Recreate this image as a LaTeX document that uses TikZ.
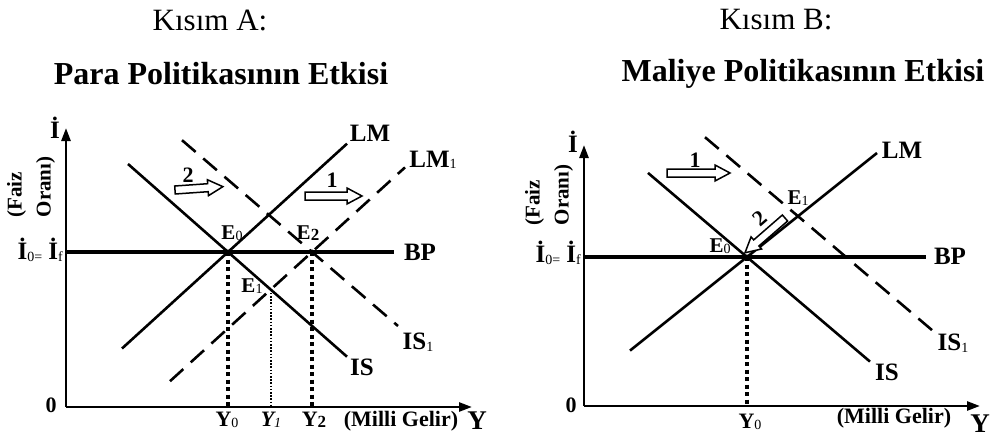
\documentclass[tikz,border=0pt]{standalone}
\usepackage{fontspec}
\setmainfont{Liberation Serif}
\usetikzlibrary{arrows.meta}
\newcommand{\lowsub}[1]{\raisebox{-1.5pt}{\fontsize{14}{14}\mdseries\selectfont #1}}
\newcommand{\lowsubb}[1]{\raisebox{-1.5pt}{\fontsize{17}{17}\bfseries\selectfont #1}}
\newcommand{\harrow}[4]{\draw[hollow,shift={(#1,#2)},rotate=#3] (0,-4) -- ({#4-15},-4) -- ({#4-15},-8) -- (#4,0) -- ({#4-15},8) -- ({#4-15},4) -- (0,4) -- cycle;}
\begin{document}
\begin{tikzpicture}[x=1pt,y=-1pt,
  ax/.style={line width=2.6pt,-{Triangle[length=13pt,width=9pt]}},
  curve/.style={line width=2.6pt},
  dcurve/.style={line width=2.6pt,dash pattern=on 18pt off 10pt},
  bpline/.style={line width=3.6pt},
  thickdot/.style={line width=4.5pt,dash pattern=on 4pt off 3.5pt},
  thindot/.style={line width=1.6pt,dash pattern=on 1.6pt off 1.6pt},
  lbl/.style={font=\bfseries\fontsize{25}{25}\selectfont,inner sep=0pt},
  elbl/.style={font=\bfseries\fontsize{21}{21}\selectfont,inner sep=0pt},
  slbl/.style={font=\bfseries\fontsize{22}{22}\selectfont,inner sep=0pt},
  ylbl/.style={font=\bfseries\fontsize{27}{27}\selectfont,inner sep=0pt},
  vlbl/.style={font=\bfseries\fontsize{21}{29}\selectfont,inner sep=0pt,rotate=90,align=left},
  ttl/.style={font=\fontsize{31}{31}\selectfont,inner sep=0pt},
  bttl/.style={font=\bfseries\fontsize{32}{32}\selectfont,inner sep=0pt},
  hollow/.style={line width=1.5pt,fill=white,line join=miter},
  pt/.style={circle,fill,inner sep=0pt,minimum size=5pt}]
\useasboundingbox (0,0) rectangle (997,439);

% titles
\node[ttl] (tA) at (210,20) {Kısım A:};
\node[bttl] (ttA) at (221,74) {Para Politikasının Etkisi};
\node[ttl] (tB) at (776,20) {Kısım B:};
\node[bttl] (ttB) at (803,74) {Maliye Politikasının Etkisi};

% ---------------- Panel A ----------------
\coordinate (OA) at (66,407);
\coordinate (yA) at (66,128);
\coordinate (xA) at (472,407);
\coordinate (bpA1) at (66,252);
\coordinate (bpA2) at (394,252);
\coordinate (isA1) at (128,164);
\coordinate (isA2) at (347,356.7);
\coordinate (lmA1) at (122,348.5);
\coordinate (lmA2) at (347,143.7);
\coordinate (lm1A1) at (170,381.2);
\coordinate (lm1A2) at (405,167.4);
\coordinate (is1A1) at (182,140.2);
\coordinate (is1A2) at (398,326);
\coordinate (E0A) at (228,252);
\coordinate (E2A) at (312,252);
\coordinate (E1A) at (270.7,289.6);
\coordinate (Y0A) at (228,407);
\coordinate (Y1A) at (270.7,407);
\coordinate (Y2A) at (312,407);

\draw[ax] (OA) -- (yA);
\draw[ax] (OA) -- (xA);
\draw[bpline] (bpA1) -- (bpA2);
\draw[curve] (isA1) -- (isA2);
\draw[curve] (lmA1) -- (lmA2);
\draw[dcurve] (lm1A1) -- (lm1A2);
\draw[dcurve] (is1A1) -- (is1A2);
\draw[thickdot] (E0A) -- (Y0A);
\draw[thickdot] (E2A) -- (Y2A);
\draw[thindot] (E1A) -- (Y1A);
\node[pt] (dE0A) at (E0A) {};
\node[pt] (dE2A) at (E2A) {};

\harrow{175}{190}{4}{48}
\harrow{305}{196}{0}{57}

\node[lbl] (iA) at (55,128) {İ};
\node[lbl,anchor=east] (ifA) at (63,250) {İ\lowsub{0=} İ\lowsub{f}};
\node[vlbl] (faizA) at (31,187) {(Faiz\\Oranı)};
\node[slbl] (zA) at (51,405) {0};
\node[lbl] (lmA) at (370,133) {LM};
\node[lbl] (lm1A) at (433,160) {LM\lowsub{1}};
\node[lbl] (bpA) at (420,252) {BP};
\node[lbl] (isA) at (362,367) {IS};
\node[lbl] (is1A) at (418,342) {IS\lowsub{1}};
\node[elbl] (e0A) at (232,233) {E\lowsub{0}};
\node[elbl] (e2A) at (308,233) {E\lowsubb{2}};
\node[elbl] (e1A) at (252,286) {E\lowsub{1}};
\node[slbl] (n2A) at (188,175) {2};
\node[slbl] (n1A) at (332,180) {1};
\node[slbl] (y0A) at (227,420) {Y\lowsub{0}};
\node[slbl] (y1A) at (271,420) {\textit{Y\lowsub{\textit{1}}}};
\node[slbl] (y2A) at (314,420) {Y\lowsubb{2}};
\node[slbl] (mgA) at (401,421) {(Milli Gelir)};
\node[ylbl] (YA) at (477,421) {Y};

% ---------------- Panel B ----------------
\coordinate (OB) at (584,406);
\coordinate (yB) at (584,145);
\coordinate (xB) at (980,406);
\coordinate (bpB1) at (584,257);
\coordinate (bpB2) at (926,257);
\coordinate (isB1) at (648,172.9);
\coordinate (isB2) at (870,361.6);
\coordinate (lmB1) at (630,350.6);
\coordinate (lmB2) at (877,153);
\coordinate (is1B1) at (705,137.2);
\coordinate (is1B2) at (932,330.1);
\coordinate (E0B) at (747,257);
\coordinate (Y0B) at (747,406);

\draw[ax] (OB) -- (yB);
\draw[ax] (OB) -- (xB);
\draw[bpline] (bpB1) -- (bpB2);
\draw[curve] (isB1) -- (isB2);
\draw[curve] (lmB1) -- (lmB2);
\draw[dcurve] (is1B1) -- (is1B2);
\draw[thickdot] (E0B) -- (Y0B);
\node[pt] (dE0B) at (E0B) {};

\harrow{667}{173}{0}{63}
\harrow{785}{218}{221}{53}

\node[lbl] (iB) at (573,142) {İ};
\node[lbl,anchor=east] (ifB) at (581,253) {İ\lowsub{0=} İ\lowsub{f}};
\node[vlbl] (faizB) at (549,195) {(Faiz\\Oranı)};
\node[slbl] (zB) at (571,405) {0};
\node[lbl] (lmB) at (902,150) {LM};
\node[lbl] (bpB) at (950,256) {BP};
\node[lbl] (isB) at (887,372) {IS};
\node[lbl] (is1B) at (953,343) {IS\lowsub{1}};
\node[elbl] (e0B) at (720,246) {E\lowsub{0}};
\node[elbl] (e1B) at (798,198) {E\lowsub{1}};
\node[slbl] (n1B) at (695,160) {1};
\node[slbl,rotate=41] (n2B) at (760,218) {2};
\node[slbl] (y0B) at (750,422) {Y\lowsub{0}};
\node[slbl] (mgB) at (894,418) {(Milli Gelir)};
\node[ylbl] (YB) at (980,424) {Y};
\end{tikzpicture}
\end{document}
